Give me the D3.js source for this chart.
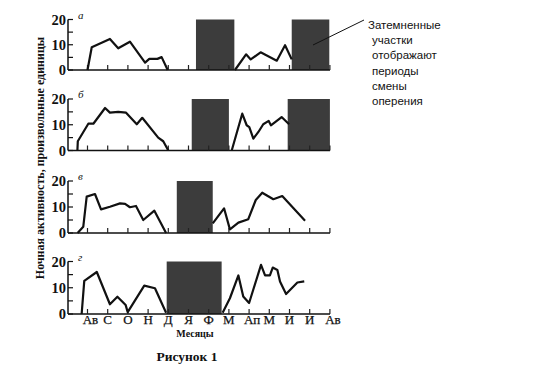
<!DOCTYPE html>
<html><head><meta charset="utf-8">
<script src="https://cdn.jsdelivr.net/npm/d3@7"></script>
<style>body{margin:0;background:#fff}svg{display:block}</style>
</head><body>
<script>
// ---- data ----
const months = ["Ав","С","О","Н","Д","Я","Ф","М","Ап","М","И","И","Ав"];
const yTicks = [0,10,20];
const yMinor = [5,15];
const panelLabels = ["а","б","в","г"];
// [month index, activity]
const aAutumn = [[0,0],[0.21,9.0],[1.11,12.3],[1.52,8.6],[2.10,11.2],[2.85,2.9],[3.06,4.4],[3.46,4.4],[3.67,5.1],[3.97,0]];
const aSpring = [[7.30,0],[7.85,6.2],[8.08,4.2],[8.57,7.0],[9.37,3.7],[9.78,9.8],[10.11,4.2]];
const aMoult = [[5.37,7.27],[10.11,11.97]];
const bAutumn = [[-0.50,0],[-0.48,3.6],[0.04,10.4],[0.29,10.4],[0.87,16.5],[1.11,14.7],[1.52,15],[1.91,14.7],[2.44,10.2],[2.71,12.7],[3.50,5],[3.75,3.6],[4.0,0]];
const bSpring = [[7.14,0],[7.66,14.3],[7.88,9.8],[8.01,9.1],[8.21,4.6],[8.46,7.2],[8.70,10.2],[8.97,11.5],[9.08,9.8],[9.61,13],[9.98,10.2]];
const bMoult = [[5.16,7.0],[9.91,12.0]];
const vAutumn = [[-0.49,0],[-0.21,2.4],[-0.04,14.0],[0.37,15.0],[0.67,9.1],[1.11,10.1],[1.61,11.4],[1.86,11.2],[2.10,9.9],[2.40,10.4],[2.76,5.0],[3.31,8.6],[3.89,0]];
const vSpring = [[6.20,3.7],[6.76,9.5],[7.05,1.4],[7.47,4.0],[7.96,5.3],[8.33,12.7],[8.65,15.5],[9.20,13.0],[9.64,14.2],[10.77,4.7]];
const vMoult = [[4.42,6.20]];
const gAutumn = [[-0.29,0],[-0.16,12.6],[0.46,16.0],[1.11,3.7],[1.48,6.6],[1.89,3.4],[1.99,0.7],[2.81,10.8],[3.34,9.8],[3.89,0.5]];
const gSpring = [[6.69,0.5],[7.05,6.0],[7.47,14.7],[7.71,6.7],[8.0,4.2],[8.59,18.7],[8.79,14.7],[9.03,14.7],[9.17,17.7],[9.40,16.8],[9.53,12.4],[9.83,7.6],[10.39,12.0],[10.73,12.4]];
const gMoult = [[3.92,6.64]];
const noteLines = ["Затемненные","участки","отображают","периоды","смены","оперения"];
const yTitle = "Ночная активность, произвольные единицы";
const xTitle = "Месяцы";
const caption = "Рисунок 1";

// ---- layout ----
const W = 550, H = 383;
const panels = [
  {label: panelLabels[0], series:[aAutumn,aSpring], moult:aMoult, top:19.5, bottom:70},
  {label: panelLabels[1], series:[bAutumn,bSpring], moult:bMoult, top:99, bottom:150.5},
  {label: panelLabels[2], series:[vAutumn,vSpring], moult:vMoult, top:181, bottom:233},
  {label: panelLabels[3], series:[gAutumn,gSpring], moult:gMoult, top:261.5, bottom:314}
];
const axisLeft = 68, axisRight = 330;
const x = d3.scaleLinear().domain([0,12]).range([87.5, 87.5+20.2*12]);
const serif = "'Liberation Serif','DejaVu Serif',serif";

const svg = d3.select("body").append("svg").attr("width",W).attr("height",H);

panels.forEach((p,pi)=>{
  const y = d3.scaleLinear().domain([0,20]).range([p.bottom,p.top]);
  const g = svg.append("g");
  g.selectAll("rect.m").data(p.moult).join("rect")
    .attr("x",d=>x(d[0])).attr("width",d=>x(d[1])-x(d[0]))
    .attr("y",y(20)).attr("height",y(0)-y(20))
    .attr("fill","#3c3c3c");
  g.append("line").attr("x1",axisLeft).attr("x2",axisRight)
    .attr("y1",y(0)).attr("y2",y(0)).attr("stroke","#111").attr("stroke-width",1.5);
  g.selectAll("line.xt").data(d3.range(months.length)).join("line")
    .attr("x1",d=>x(d)).attr("x2",d=>x(d)).attr("y1",y(0)).attr("y2",y(0)-5)
    .attr("stroke","#222").attr("stroke-width",1.2);
  g.append("line").attr("x1",axisLeft).attr("x2",axisLeft)
    .attr("y1",y(0)).attr("y2",y(20)).attr("stroke","#111").attr("stroke-width",1.5);
  g.selectAll("line.yt").data(yTicks.concat(yMinor)).join("line")
    .attr("x1",axisLeft).attr("x2",axisLeft+5).attr("y1",d=>y(d)).attr("y2",d=>y(d))
    .attr("stroke","#111").attr("stroke-width",1.2);
  g.selectAll("text.yl").data(yTicks).join("text")
    .attr("x",axisLeft-2).attr("y",d=>y(d)).attr("dy","0.35em")
    .attr("text-anchor","end").attr("font-family",serif).attr("font-weight","bold")
    .attr("font-size",14.5).attr("fill","#111").text(d=>d);
  g.append("text").attr("x",axisLeft+10).attr("y",y(20)-1)
    .attr("font-family",serif).attr("font-style","italic").attr("font-size",11)
    .attr("fill","#111").text(p.label);
  const line = d3.line().x(d=>x(d[0])).y(d=>y(d[1]));
  g.selectAll("path.s").data(p.series).join("path")
    .attr("d",line).attr("fill","none").attr("stroke","#111")
    .attr("stroke-width",2.2).attr("stroke-linejoin","round");
  if(pi===3){
    g.selectAll("text.xl").data(months).join("text")
      .attr("x",(d,i)=>x(i)+(i===0||i===8||i===12?3:0)).attr("y",y(0)+10).attr("text-anchor","middle")
      .attr("font-family",serif).attr("font-size",13).attr("stroke","#111").attr("stroke-width",0.25)
      .attr("fill","#111").text(d=>d);
  }
});

// annotation
svg.append("line").attr("x1",313).attr("y1",45).attr("x2",364).attr("y2",20)
  .attr("stroke","#111").attr("stroke-width",1);
svg.append("g").selectAll("text").data(noteLines).join("text")
  .attr("x",(d,i)=>i===0?368:372).attr("y",(d,i)=>29+i*15.2)
  .attr("font-family","'Liberation Sans',Arial,sans-serif").attr("font-size",11.5)
  .attr("fill","#111").text(d=>d);

// titles
svg.append("text").attr("transform","translate(44,158) rotate(-90)")
  .attr("text-anchor","middle").attr("font-family",serif).attr("font-weight","bold")
  .attr("font-size",12).attr("fill","#111").text(yTitle);
svg.append("text").attr("x",195).attr("y",337).attr("text-anchor","middle")
  .attr("font-family",serif).attr("font-weight","bold").attr("font-size",10)
  .attr("fill","#111").text(xTitle);
svg.append("text").attr("x",187).attr("y",361).attr("text-anchor","middle")
  .attr("font-family",serif).attr("font-weight","bold").attr("font-size",13.5)
  .attr("fill","#111").text(caption);
</script>
</body></html>
